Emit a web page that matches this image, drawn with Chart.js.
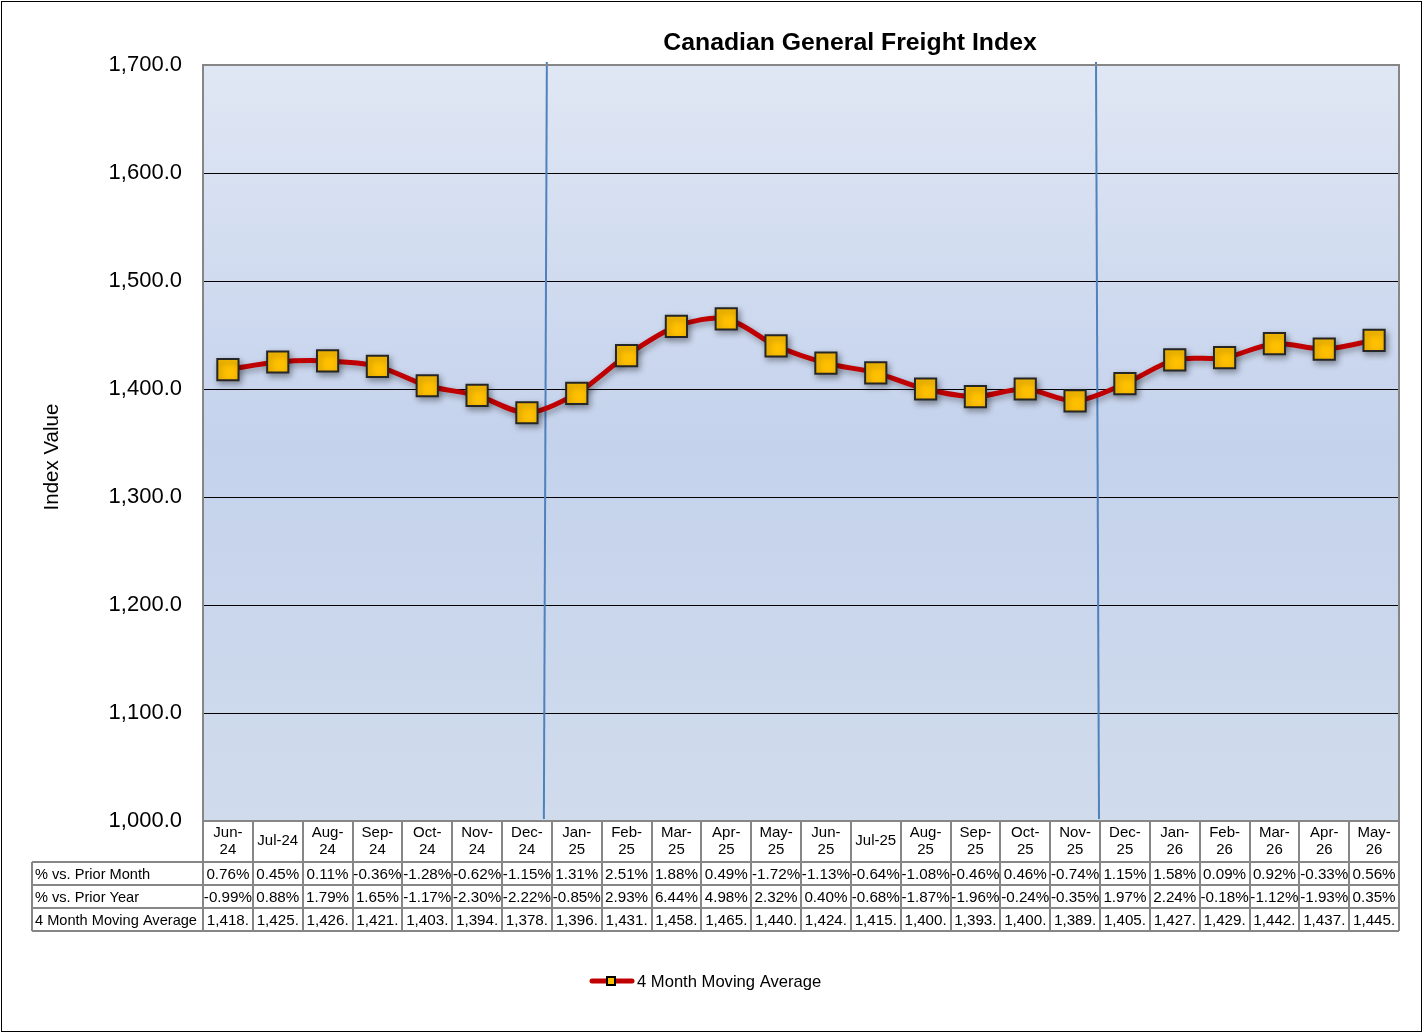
<!DOCTYPE html>
<html>
<head>
<meta charset="utf-8">
<script src="https://cdn.jsdelivr.net/npm/chart.js@4.4.1/dist/chart.umd.min.js"></script>
<style>
  html, body { margin: 0; padding: 0; background: #ffffff; }
  #wrap { position: relative; width: 1423px; height: 1034px; }
  #grafico { display: block; }
</style>
</head>
<body>
<div id="wrap"><canvas id="grafico" width="1423" height="1034"></canvas></div>
<script>
// meses del eje x
const meses = ["Jun-24", "Jul-24", "Aug-24", "Sep-24", "Oct-24", "Nov-24", "Dec-24", "Jan-25", "Feb-25", "Mar-25", "Apr-25", "May-25",
  "Jun-25", "Jul-25", "Aug-25", "Sep-25", "Oct-25", "Nov-25", "Dec-25", "Jan-26", "Feb-26", "Mar-26", "Apr-26", "May-26"];

// promedio movil de 4 meses (valores del indice)
const promedioMovil = [1418, 1425, 1426, 1421, 1403, 1394, 1378, 1396, 1431, 1458, 1465, 1440,
  1424, 1415, 1400, 1393, 1400, 1389, 1405, 1427, 1429, 1442, 1437, 1445];

// filas de la tabla
const vsMesAnterior = ["0.76%", "0.45%", "0.11%", "-0.36%", "-1.28%", "-0.62%", "-1.15%", "1.31%", "2.51%", "1.88%", "0.49%", "-1.72%",
  "-1.13%", "-0.64%", "-1.08%", "-0.46%", "0.46%", "-0.74%", "1.15%", "1.58%", "0.09%", "0.92%", "-0.33%", "0.56%"];
const vsAnioAnterior = ["-0.99%", "0.88%", "1.79%", "1.65%", "-1.17%", "-2.30%", "-2.22%", "-0.85%", "2.93%", "6.44%", "4.98%", "2.32%",
  "0.40%", "-0.68%", "-1.87%", "-1.96%", "-0.24%", "-0.35%", "1.97%", "2.24%", "-0.18%", "-1.12%", "-1.93%", "0.35%"];
const etiquetasFilas = ["% vs. Prior Month", "% vs. Prior Year", "4 Month Moving Average"];

// separadores de año (entre Dec y Jan), en unidades de categoria: arriba / abajo (lineas dibujadas a mano, algo inclinadas)
const separadoresArriba = [6.4, 17.42];
const separadoresAbajo = [6.34, 17.48];

const fuente = "'Liberation Sans', Arial, sans-serif";

// formato de la celda: "1,418." como en la tabla original (texto cortado)
function formatoTabla(v) {
  return v.toLocaleString("en-US") + ".";
}

// plugin: fondo, borde, lineas azules, tabla, titulo y leyenda
const pluginExtra = {
  id: "extra",
  beforeDraw(chart) {
    const { ctx, chartArea: a } = chart;
    ctx.save();
    // borde exterior
    ctx.strokeStyle = "#000000";
    ctx.lineWidth = 1;
    ctx.strokeRect(1.5, 1.5, chart.width - 3, chart.height - 4);
    // fondo degradado del area
    const g = ctx.createLinearGradient(0, a.top, 0, a.bottom);
    g.addColorStop(0, "#e0e7f4");
    g.addColorStop(0.5, "#c4d2ec");
    g.addColorStop(1, "#d0dcec");
    ctx.fillStyle = g;
    ctx.fillRect(a.left, a.top, a.right - a.left, a.bottom - a.top);
    ctx.restore();
  },
  beforeDatasetsDraw(chart) {
    const { ctx, chartArea: a, scales } = chart;
    ctx.save();
    ctx.strokeStyle = "#4f81bd";
    ctx.lineWidth = 2;
    separadoresArriba.forEach((s, i) => {
      ctx.beginPath();
      ctx.moveTo(scales.x.getPixelForValue(s), a.top - 3);
      ctx.lineTo(scales.x.getPixelForValue(separadoresAbajo[i]), a.bottom - 2);
      ctx.stroke();
    });
    ctx.restore();
    // sombra para linea y marcadores
    ctx.save();
    ctx.shadowColor = "rgba(0,0,0,0.35)";
    ctx.shadowBlur = 6;
    ctx.shadowOffsetX = 2;
    ctx.shadowOffsetY = 3;
  },
  afterDatasetsDraw(chart) {
    chart.ctx.restore();
  },
  afterDraw(chart) {
    const { ctx, chartArea: a, scales } = chart;
    const x = scales.x;
    ctx.save();

    // borde del area de trazado
    ctx.strokeStyle = "#868686";
    ctx.lineWidth = 2;
    ctx.strokeRect(a.left, a.top, a.right - a.left, a.bottom - a.top);

    // tabla de datos
    const izq = 32;
    const filas = [a.bottom, 862, 885, 908, 931];
    ctx.strokeStyle = "#868686";
    ctx.lineWidth = 2;
    ctx.beginPath();
    // lineas horizontales
    ctx.moveTo(a.left, filas[0]); ctx.lineTo(a.right, filas[0]);
    for (let i = 1; i < filas.length; i++) {
      ctx.moveTo(izq, filas[i]); ctx.lineTo(a.right, filas[i]);
    }
    // lineas verticales
    ctx.moveTo(izq, filas[1]); ctx.lineTo(izq, filas[4]);
    for (let i = 0; i <= meses.length; i++) {
      const px = Math.round(x.getPixelForValue(i - 0.5));
      ctx.moveTo(px, filas[0]); ctx.lineTo(px, filas[4]);
    }
    ctx.stroke();

    ctx.fillStyle = "#000000";
    ctx.textBaseline = "middle";
    ctx.textAlign = "center";
    meses.forEach((m, i) => {
      const cx = x.getPixelForValue(i);
      ctx.font = "15px " + fuente;
      if (ctx.measureText(m).width > 43) {
        const partes = m.split("-");
        ctx.fillText(partes[0] + "-", cx, filas[0] + 12);
        ctx.fillText(partes[1], cx, filas[0] + 29);
      } else {
        ctx.fillText(m, cx, filas[0] + 20);
      }
      ctx.font = "15.2px " + fuente;
      ctx.fillText(vsMesAnterior[i], cx, (filas[1] + filas[2]) / 2 + 1);
      ctx.fillText(vsAnioAnterior[i], cx, (filas[2] + filas[3]) / 2 + 1);
      ctx.fillText(formatoTabla(promedioMovil[i]), cx, (filas[3] + filas[4]) / 2 + 1);
    });
    ctx.textAlign = "left";
    ctx.font = "14.6px " + fuente;
    etiquetasFilas.forEach((t, i) => {
      ctx.fillText(t, izq + 3, (filas[i + 1] + filas[i + 2]) / 2 + 1);
    });

    // titulo
    ctx.font = "bold 24.8px " + fuente;
    ctx.textAlign = "center";
    ctx.fillText("Canadian General Freight Index", 850, 43);

    // titulo del eje y
    ctx.save();
    ctx.translate(52, 457);
    ctx.rotate(-Math.PI / 2);
    ctx.font = "20.5px " + fuente;
    ctx.fillText("Index Value", 0, 0);
    ctx.restore();

    // leyenda
    const ly = 981;
    ctx.strokeStyle = "#c00000";
    ctx.lineWidth = 5;
    ctx.lineCap = "round";
    ctx.beginPath();
    ctx.moveTo(592, ly); ctx.lineTo(632, ly);
    ctx.stroke();
    ctx.fillStyle = "#ffc000";
    ctx.strokeStyle = "#000000";
    ctx.lineWidth = 2;
    ctx.fillRect(607, ly - 4, 8, 8);
    ctx.strokeRect(607, ly - 4, 8, 8);
    ctx.fillStyle = "#000000";
    ctx.font = "16.6px " + fuente;
    ctx.textAlign = "left";
    ctx.fillText("4 Month Moving Average", 637, ly + 1);

    ctx.restore();
  }
};

new Chart(document.getElementById("grafico"), {
  type: "line",
  data: {
    labels: meses,
    datasets: [{
      label: "4 Month Moving Average",
      data: promedioMovil,
      borderColor: "#c00000",
      borderWidth: 5,
      tension: 0.3,
      pointStyle: "rect",
      pointRadius: 15,
      pointHoverRadius: 15,
      pointBackgroundColor: "#ffc000",
      pointBorderColor: "#262626",
      pointBorderWidth: 2
    }]
  },
  options: {
    responsive: false,
    animation: false,
    layout: { padding: { left: 0, top: 65, right: 24, bottom: 213 } },
    plugins: {
      legend: { display: false },
      title: { display: false },
      tooltip: { enabled: false }
    },
    scales: {
      x: {
        type: "category",
        offset: true,
        display: false
      },
      y: {
        min: 1000,
        max: 1700,
        afterFit(scale) { scale.width = 203; },
        border: { display: false },
        grid: { color: "#000000", lineWidth: 1, drawTicks: false },
        ticks: {
          stepSize: 100,
          padding: 21,
          color: "#000000",
          font: { family: fuente, size: 22 },
          callback: (v) => v.toLocaleString("en-US", { minimumFractionDigits: 1, maximumFractionDigits: 1 })
        }
      }
    }
  },
  plugins: [pluginExtra]
});
</script>
</body>
</html>
